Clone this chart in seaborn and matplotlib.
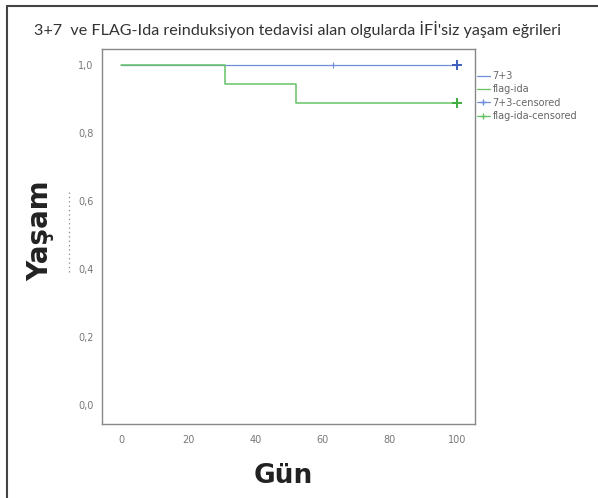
import numpy as np
import pandas as pd
import matplotlib
matplotlib.use("Agg")
import matplotlib.pyplot as plt
from matplotlib.lines import Line2D
import seaborn as sns

# Data
groups = ["7+3", "flag-ida"]
time_73 = [0, 100]
surv_73 = [1.0, 1.0]
time_flag = [0, 31, 52, 100]
surv_flag = [1.0, 0.944, 0.889, 0.889]
cens_73_t = [63, 100]
cens_73_s = [1.0, 1.0]
cens_flag_t = [100]
cens_flag_s = [0.889]
xticks = [0, 20, 40, 60, 80, 100]
yticks = [0.0, 0.2, 0.4, 0.6, 0.8, 1.0]

title = "3+7  ve FLAG-Ida reinduksiyon tedavisi alan olgularda İFİ'siz yaşam eğrileri"

blue = "#6f8fd8"
green = "#66c266"
blue_d = "#3e5fc0"
green_d = "#3fae3f"

df = pd.DataFrame({
    "t": time_73 + time_flag,
    "s": surv_73 + surv_flag,
    "g": ["7+3"] * len(time_73) + ["flag-ida"] * len(time_flag),
})

sns.set_style("white")
fig = plt.figure(figsize=(5.98, 4.98), dpi=100)
ax = fig.add_axes([102 / 598, 74 / 498, 373 / 598, 375 / 498])

sns.lineplot(data=df[df.g == "7+3"], x="t", y="s", color=blue, lw=0.9,
             drawstyle="steps-post", estimator=None, ax=ax, legend=False)
sns.lineplot(data=df[df.g == "flag-ida"], x="t", y="s", color=green, lw=1.1,
             drawstyle="steps-post", estimator=None, ax=ax, legend=False)
ax.plot([cens_73_t[0]], [cens_73_s[0]], marker="+", color=blue, ms=4, mew=0.8, ls="none")
ax.plot([cens_73_t[1]], [cens_73_s[1]], marker="+", color=blue_d, ms=7, mew=1.4, ls="none")
ax.plot(cens_flag_t, cens_flag_s, marker="+", color=green_d, ms=7, mew=1.4, ls="none")

ax.set_xlim(-5.65, 105.4)
ax.set_ylim(-0.056, 1.047)
ax.set_xticks(xticks)
ax.set_xticklabels([str(v) for v in xticks])
ax.set_yticks(yticks)
ax.set_yticklabels([f"{v:.1f}".replace(".", ",") for v in yticks])
ax.tick_params(axis="both", direction="out", length=4, width=0.8, color="#666666",
               labelsize=7, labelcolor="#777777", pad=2)
ax.tick_params(axis="x", pad=4)
for sp in ax.spines.values():
    sp.set_color("#888888")
    sp.set_linewidth(1.0)
ax.set_xlabel("")
ax.set_ylabel("")

# Legend
handles = [
    Line2D([], [], color=blue, lw=0.9),
    Line2D([], [], color=green, lw=0.9),
    Line2D([], [], color=blue, lw=0.9, marker="+", ms=5),
    Line2D([], [], color=green, lw=0.9, marker="+", ms=5),
]
labels = ["7+3", "flag-ida", "7+3-censored", "flag-ida-censored"]
fig.legend(handles, labels, loc="upper left", bbox_to_anchor=(477 / 598, 1 - 71 / 498),
           frameon=False, fontsize=7, labelcolor="#666666", handlelength=1.3,
           handletextpad=0.3, labelspacing=0.35, borderpad=0, borderaxespad=0)

# Title and axis labels
fig.text(0.4975, 1 - 30 / 498, title, ha="center", va="center", fontsize=11.6,
         family="Lato", color="#333333")
fig.text(40 / 598, 1 - 231 / 498, "Yaşam", rotation=90, ha="center", va="center",
         fontsize=20, fontweight="bold", family="DejaVu Sans", color="#222222")
fig.text(283 / 598, 1 - 476 / 498, "Gün", ha="center", va="center",
         fontsize=19, fontweight="bold", family="DejaVu Sans", color="#222222")

# dotted artifact next to y label
fig.add_artist(Line2D([69 / 598, 69 / 598], [1 - 192 / 498, 1 - 275 / 498],
                      transform=fig.transFigure, color="#888888", lw=0.9, ls=(0, (1, 2.5))))

# outer frame (left and top lines)
fig.add_artist(Line2D([6.5 / 598, 6.5 / 598], [0, 1 - 6.5 / 498], transform=fig.transFigure,
                      color="#444444", lw=1.5))
fig.add_artist(Line2D([6.5 / 598, 1], [1 - 6.5 / 498, 1 - 6.5 / 498], transform=fig.transFigure,
                      color="#444444", lw=1.5))

fig.savefig("out.png", dpi=100)
